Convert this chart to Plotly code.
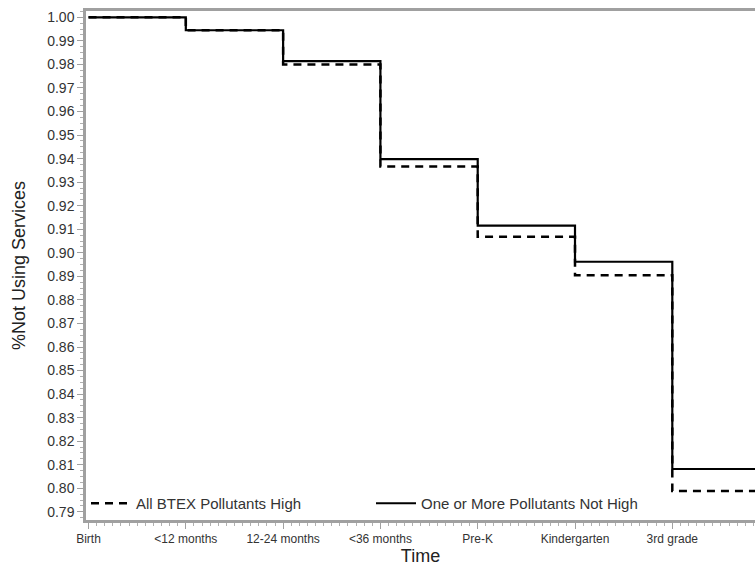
import plotly.graph_objects as go

categories = ["Birth", "<12 months", "12-24 months", "<36 months", "Pre-K", "Kindergarten", "3rd grade"]
all_btex_high = [1.000, 0.9945, 0.9800, 0.9366, 0.9068, 0.8905, 0.7989]
one_or_more_not_high = [1.000, 0.9945, 0.9814, 0.9398, 0.9115, 0.8962, 0.8082]
y_ticks = [round(0.79 + 0.01 * i, 2) for i in range(22)]

x_pos = list(range(len(categories)))
x_step = x_pos + [len(categories)]

fig = go.Figure()
fig.add_trace(go.Scatter(
    x=x_step, y=all_btex_high + [all_btex_high[-1]],
    mode="lines", line=dict(shape="hv", color="black", width=2.5, dash="8px,6px"),
    name="All BTEX Pollutants High"))
fig.add_trace(go.Scatter(
    x=x_step, y=one_or_more_not_high + [one_or_more_not_high[-1]],
    mode="lines", line=dict(shape="hv", color="black", width=2.2),
    name="One or More Pollutants Not High"))

font_family = "Liberation Sans, Arial, sans-serif"
fig.update_layout(
    width=755, height=570,
    margin=dict(l=86, r=0, t=11, b=50),
    plot_bgcolor="white", paper_bgcolor="white",
    font=dict(family=font_family, color="#333"),
    showlegend=True,
    legend=dict(orientation="h", x=0.0, xanchor="left", y=0.0, yanchor="bottom",
                bgcolor="rgba(0,0,0,0)", font=dict(size=15, color="#333"),
                entrywidth=230, entrywidthmode="pixels", itemwidth=40),
    xaxis=dict(
        range=[-0.026, 6.85], tickvals=x_pos, ticktext=categories,
        showgrid=False, zeroline=False, automargin=False,
        showline=True, linecolor="#a0a0a0", linewidth=2.5, mirror=True,
        ticks="outside", ticklen=6, tickcolor="#a0a0a0", tickwidth=1,
        tickfont=dict(size=12, color="#333"), ticklabelstandoff=0,
        minor=dict(dtick=1/12, tick0=0, ticks="outside", ticklen=3, tickcolor="#b0b0b0", tickwidth=1),
        title=dict(text="Time", font=dict(size=18, color="#222"), standoff=4),
    ),
    yaxis=dict(
        range=[0.78654, 1.00268], tickvals=y_ticks, tickformat=".2f",
        showgrid=False, zeroline=False, automargin=False,
        showline=True, linecolor="#a0a0a0", linewidth=2.5, mirror=False,
        ticks="outside", ticklen=6, tickcolor="#a0a0a0", tickwidth=1,
        tickfont=dict(size=14, color="#333"),
        minor=dict(dtick=0.0025, tick0=0.79, ticks="outside", ticklen=3, tickcolor="#b0b0b0", tickwidth=1),
        title=dict(text="%Not Using Services", font=dict(size=18, color="#222"), standoff=17),
    ),
)

fig.write_html("out.html",
               config={"displayModeBar": False},
               post_script="document.body.style.margin='0';document.body.style.overflow='hidden';")
